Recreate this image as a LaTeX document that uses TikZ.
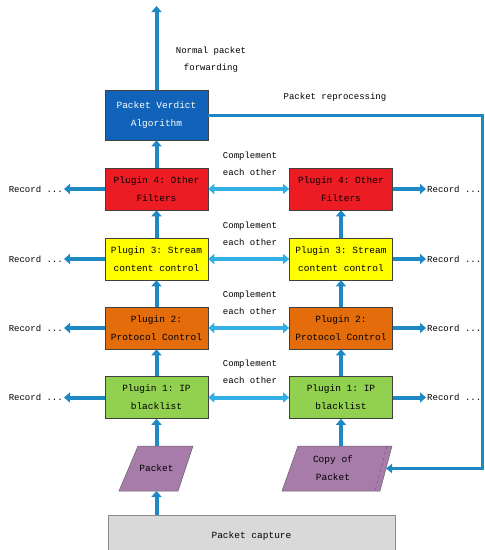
\documentclass[tikz,border=0pt]{standalone}
\usepackage{fontspec}
\setmonofont{Liberation Mono}
\usetikzlibrary{arrows.meta,calc}
\definecolor{verdictblue}{RGB}{16,99,184}
\definecolor{pred}{RGB}{236,28,36}
\definecolor{pyellow}{RGB}{255,255,0}
\definecolor{porange}{RGB}{228,108,10}
\definecolor{pgreen}{RGB}{146,208,80}
\definecolor{ppurple}{RGB}{168,124,170}
\definecolor{pgray}{RGB}{217,217,217}
\definecolor{arrowblue}{RGB}{30,136,196}
\definecolor{lightblue}{RGB}{50,176,230}
\begin{document}
\begin{tikzpicture}[x=1pt,y=-1pt,
  box/.style={draw=black!75, line width=0.6pt, minimum width=103pt, minimum height=42pt,
    align=center, inner sep=1pt, font=\ttfamily\fontsize{9.5}{18}\selectfont},
  paratext/.style={minimum height=45pt, align=center, inner sep=1pt,
    font=\ttfamily\fontsize{9.5}{18}\selectfont},
  parashape/.style={draw=black!60, line width=0.5pt, fill=ppurple},
  varrow/.style={line width=4pt, draw=arrowblue, -{Triangle[length=6pt,width=10pt]}},
  harrow/.style={line width=4pt, draw=lightblue,
    {Triangle[length=6pt,width=10pt]}-{Triangle[length=6pt,width=10pt]}},
  larrow/.style={line width=3pt, draw=arrowblue, -{Triangle[length=6pt,width=9pt]}},
  lbl/.style={font=\ttfamily\fontsize{9}{17}\selectfont, align=center, inner sep=0pt}]
\clip (0,0) rectangle (485,550);
\fill[white] (0,0) rectangle (485,550);

% boxes
\node[box, fill=verdictblue, text=white, minimum height=50pt] (verdict) at (156.5,115) {Packet Verdict\\Algorithm};
\node[box, fill=pred] (l4) at (156.5,189) {Plugin 4: Other\\Filters};
\node[box, fill=pred] (r4) at (341,189) {Plugin 4: Other\\Filters};
\node[box, fill=pyellow] (l3) at (156.5,259) {Plugin 3: Stream\\content control};
\node[box, fill=pyellow] (r3) at (341,259) {Plugin 3: Stream\\content control};
\node[box, fill=porange] (l2) at (156.5,328) {Plugin 2:\\Protocol Control};
\node[box, fill=porange] (r2) at (341,328) {Plugin 2:\\Protocol Control};
\node[box, fill=pgreen] (l1) at (156.5,397.5) {Plugin 1: IP\\blacklist};
\node[box, fill=pgreen] (r1) at (341,397.5) {Plugin 1: IP\\blacklist};

% parallelograms
\draw[parashape] (138,446) -- (193,446) -- (178,491) -- (119,491) -- cycle;
\node[paratext] (packet) at (156.5,468.5) {Packet};
\draw[parashape] (298,446) -- (392,446) -- (380,491) -- (282,491) -- cycle;
\draw[dashed, black!60, line width=0.5pt] (387,446) -- (375,491);
\node[paratext] (copy) at (333,468.5) {Copy of\\Packet};
\coordinate (copyE) at (386,468.5);

\node[draw=black!45, line width=0.6pt, fill=pgray, minimum width=287pt, minimum height=42pt,
  font=\ttfamily\fontsize{9.5}{18}\selectfont] (capture) at (251.5,536) {Packet capture};

% top output
\coordinate (out) at (156.5,6);
\draw[varrow] (verdict.north) -- (out);
\node[lbl] (normal) at (211,60) {Normal packet\\forwarding};

% reprocessing loop
\coordinate (c1) at (482,115);
\coordinate (c2) at (482,468.5);
\draw[larrow] (verdict.east) -- (c1) -- (c2) -- (copyE);
\node[lbl] (reproc) at (335,97) {Packet reprocessing};

% vertical flow
\coordinate (pb) at (156.5,491);
\coordinate (pt) at (156.5,446);
\coordinate (cb) at (341,446);
\draw[varrow] (capture.north -| pb) -- (pb);
\draw[varrow] (pt) -- (l1.south);
\draw[varrow] (cb) -- (r1.south);
\draw[varrow] (l1) -- (l2);
\draw[varrow] (l2) -- (l3);
\draw[varrow] (l3) -- (l4);
\draw[varrow] (l4) -- (verdict);
\draw[varrow] (r1) -- (r2);
\draw[varrow] (r2) -- (r3);
\draw[varrow] (r3) -- (r4);

% complement arrows
\foreach \r/\y in {4/189,3/259,2/328,1/397.5}{
  \draw[harrow] (l\r) -- (r\r);
  \node[lbl] (comp\r) at (250,\y-25.5) {Complement\\each other};
}

% record arrows
\foreach \r/\y in {4/189,3/259,2/328,1/397.5}{
  \coordinate (rl\r) at (64,\y);
  \coordinate (rr\r) at (426,\y);
  \draw[varrow] (l\r) -- (rl\r);
  \draw[varrow] (r\r) -- (rr\r);
  \node[lbl, anchor=east] (recl\r) at (63,\y) {Record ...};
  \node[lbl, anchor=west] (recr\r) at (427,\y) {Record ...};
}
\end{tikzpicture}
\end{document}
